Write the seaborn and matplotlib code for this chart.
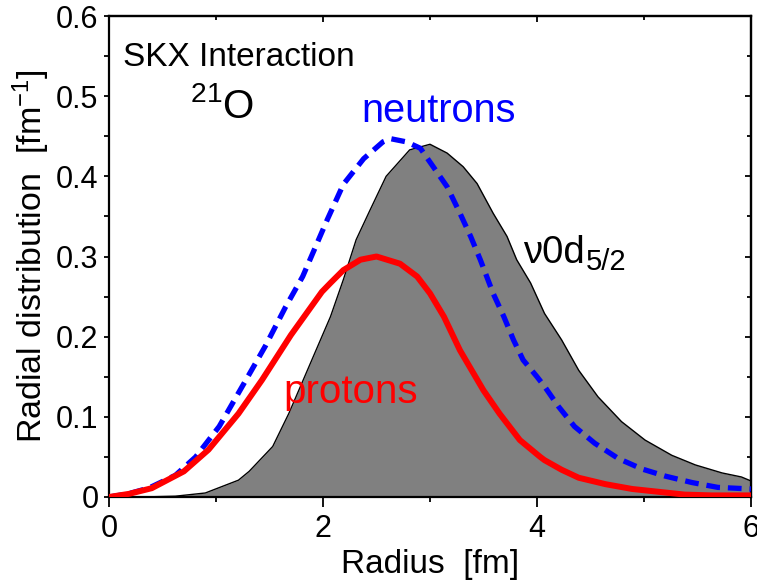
import numpy as np
import pandas as pd
import matplotlib
matplotlib.use("Agg")
import matplotlib.pyplot as plt
import seaborn as sns
from matplotlib.ticker import MultipleLocator

# nu 0d5/2 orbital (gray filled)
r_orb = [0.0, 0.3, 0.62, 0.90, 1.21, 1.31, 1.53, 1.68, 1.87, 2.07, 2.19, 2.31, 2.44, 2.59,
         2.81, 3.0, 3.16, 3.31, 3.44, 3.59, 3.72, 3.81, 3.94, 4.07, 4.23, 4.39, 4.57,
         4.79, 5.01, 5.26, 5.48, 5.73, 5.91, 6.0]
d_orb = [0.0, 0.0, 0.001, 0.005, 0.021, 0.032, 0.063, 0.104, 0.163, 0.225, 0.271, 0.321,
         0.358, 0.400, 0.433, 0.440, 0.429, 0.412, 0.391, 0.354, 0.325, 0.296, 0.267,
         0.229, 0.196, 0.158, 0.125, 0.094, 0.071, 0.052, 0.040, 0.030, 0.025, 0.020]

# neutrons (blue dashed)
r_n = [0.0, 0.18, 0.37, 0.62, 0.81, 1.03, 1.28, 1.46, 1.65, 1.81, 1.93, 2.04, 2.19, 2.38,
       2.56, 2.63, 2.78, 2.91, 3.03, 3.16, 3.28, 3.38, 3.47, 3.59, 3.69, 3.78, 3.87, 4.0,
       4.07, 4.2, 4.35, 4.54, 4.76, 4.98, 5.2, 5.45, 5.69, 6.0]
d_n = [0.0, 0.004, 0.011, 0.027, 0.050, 0.088, 0.146, 0.188, 0.237, 0.275, 0.312, 0.346,
       0.390, 0.422, 0.443, 0.447, 0.443, 0.435, 0.412, 0.387, 0.354, 0.325, 0.296, 0.254,
       0.225, 0.196, 0.171, 0.150, 0.138, 0.113, 0.088, 0.067, 0.048, 0.035, 0.026, 0.018,
       0.012, 0.010]

# protons (red solid)
r_p = [0.0, 0.19, 0.40, 0.70, 0.93, 1.21, 1.43, 1.70, 1.99, 2.07, 2.19, 2.35, 2.50, 2.72,
       2.88, 3.0, 3.13, 3.28, 3.50, 3.65, 3.84, 4.03, 4.07, 4.23, 4.39, 4.64, 4.89, 5.1,
       5.38, 5.63, 6.0]
d_p = [0.0, 0.004, 0.011, 0.032, 0.059, 0.104, 0.146, 0.202, 0.256, 0.267, 0.283, 0.296,
       0.300, 0.291, 0.275, 0.254, 0.225, 0.183, 0.133, 0.104, 0.071, 0.050, 0.046, 0.034,
       0.024, 0.016, 0.010, 0.007, 0.003, 0.002, 0.002]

x_ticks = [0, 2, 4, 6]
x_ticklabels = ["0", "2", "4", "6"]
y_ticks = [0, 0.1, 0.2, 0.3, 0.4, 0.5, 0.6]
y_ticklabels = ["0", "0.1", "0.2", "0.3", "0.4", "0.5", "0.6"]

sns.set_theme(style="ticks")
plt.rcParams['font.family'] = ['Liberation Sans', 'DejaVu Sans']
plt.rcParams['mathtext.fontset'] = 'custom'
plt.rcParams['mathtext.rm'] = 'Liberation Sans'
plt.rcParams['mathtext.it'] = 'Liberation Sans:italic'

fig = plt.figure(figsize=(7.57, 5.85), dpi=100)
ax = fig.add_axes([109 / 757, 88 / 585, 642 / 757, 481 / 585])

df_orb = pd.DataFrame({"r": r_orb, "d": d_orb})
df_n = pd.DataFrame({"r": r_n, "d": d_n})
df_p = pd.DataFrame({"r": r_p, "d": d_p})

ax.fill_between(df_orb["r"], 0, df_orb["d"], color="#808080", linewidth=0, zorder=1)
sns.lineplot(data=df_orb, x="r", y="d", ax=ax, color="black", linewidth=1.0, zorder=2,
             estimator=None, sort=False)
neut = sns.lineplot(data=df_n, x="r", y="d", ax=ax, color="#0000ff", linewidth=3.8,
                    zorder=3, estimator=None, sort=False)
neut.lines[-1].set_dashes([2.6, 1.5])
sns.lineplot(data=df_p, x="r", y="d", ax=ax, color="#ff0000", linewidth=4.3, zorder=4,
             estimator=None, sort=False)

ax.set_xlim(0, 6)
ax.set_ylim(0, 0.6)
ax.set_xticks(x_ticks)
ax.set_xticklabels(x_ticklabels)
ax.set_yticks(y_ticks)
ax.set_yticklabels(y_ticklabels)
ax.xaxis.set_minor_locator(MultipleLocator(1))
ax.yaxis.set_minor_locator(MultipleLocator(0.05))
ax.tick_params(which="both", direction="out", top=False, right=False,
               width=1.3, color="black", labelcolor="black")
ax.tick_params(axis="x", which="major", length=7, labelsize=22, pad=5)
ax.tick_params(axis="x", which="minor", length=3.5)
ax.tick_params(axis="y", which="both", length=3.6, labelsize=22, pad=4)
for s in ax.spines.values():
    s.set_linewidth(1.6)
    s.set_color("black")

# inward ticks on top and right
secx = ax.secondary_xaxis("top")
secx.set_xticks(x_ticks)
secx.xaxis.set_minor_locator(MultipleLocator(1))
secx.tick_params(which="both", direction="in", labeltop=False, width=1.3, color="black")
secx.tick_params(which="major", length=4.5)
secx.tick_params(which="minor", length=3)
secy = ax.secondary_yaxis("right")
secy.set_yticks(y_ticks)
secy.yaxis.set_minor_locator(MultipleLocator(0.05))
secy.tick_params(which="both", direction="in", labelright=False, width=1.3, color="black")
secy.tick_params(which="major", length=4.5)
secy.tick_params(which="minor", length=3)
for sec in (secx, secy):
    for s in sec.spines.values():
        s.set_linewidth(1.6)

ax.set_xlabel("Radius  [fm]", fontsize=24, color="black", labelpad=4)
ax.set_ylabel("Radial distribution  [fm$^{-1}$]", fontsize=24.5, color="black", labelpad=3)

ax.text(0.13, 0.5376, "SKX Interaction", fontsize=24, color="black", va="baseline", ha="left")
ax.text(0.76, 0.473, "$^{21}$O", fontsize=29, color="black", va="baseline", ha="left")
ax.text(2.355, 0.468, "neutrons", fontsize=28.5, color="#0000ff", va="baseline", ha="left")
ax.text(1.626, 0.117, "protons", fontsize=29, color="#ff0000", va="baseline", ha="left")
t_nu = ax.text(3.87, 0.292, "ν0d", fontsize=27.5, color="black", va="baseline", ha="left")
ax.annotate("5/2", xy=(1, 0), xycoords=t_nu, xytext=(1, 1), textcoords="offset points",
            fontsize=21, color="black", va="baseline", ha="left")

fig.savefig("out.png", dpi=100)
